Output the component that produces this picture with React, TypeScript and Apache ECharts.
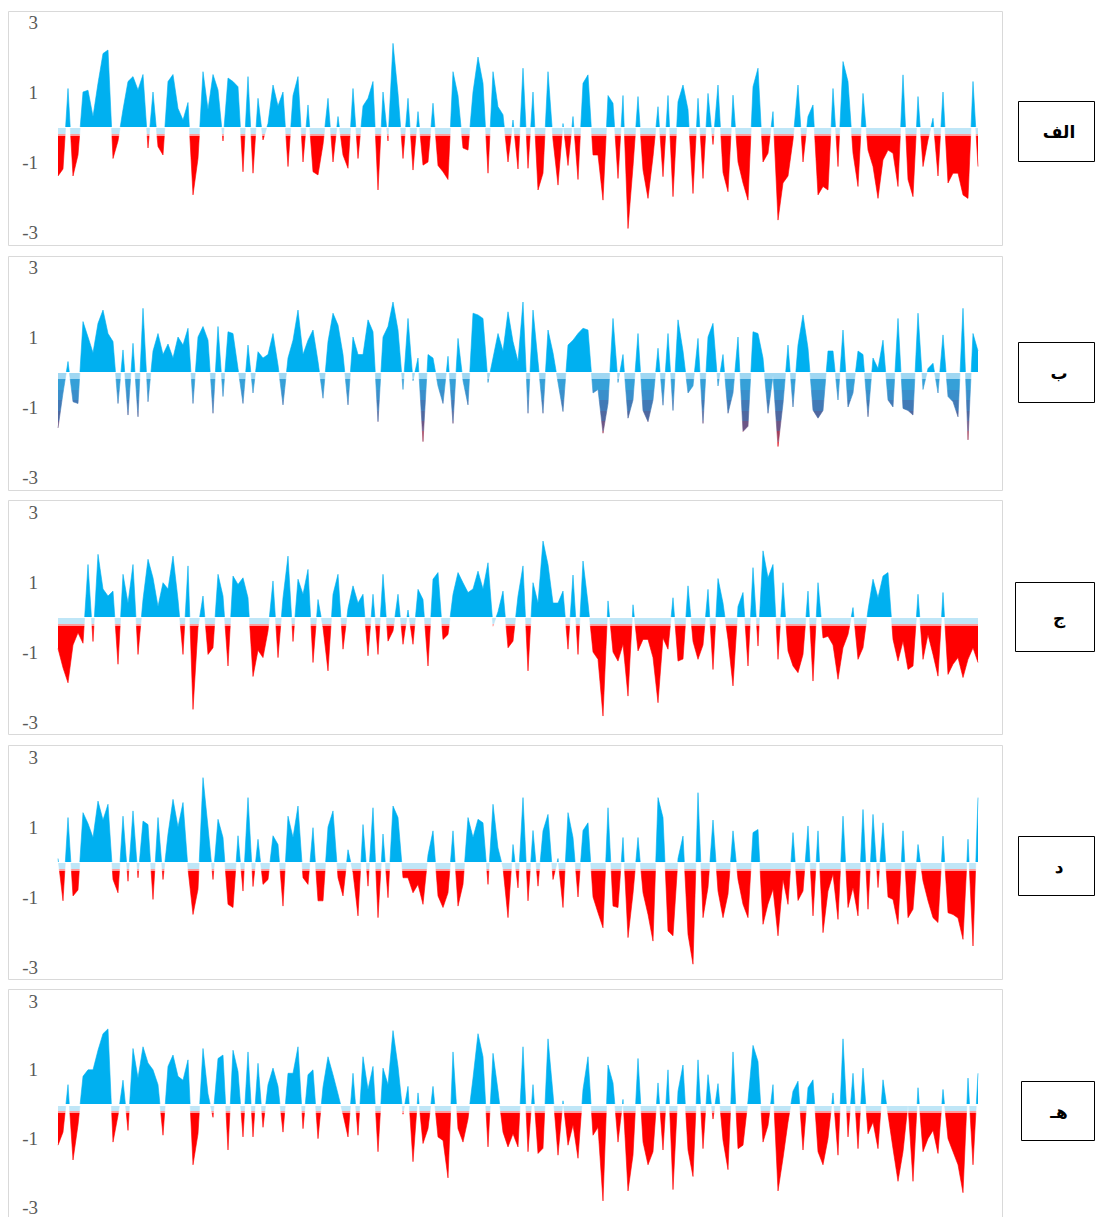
import React, { useEffect, useRef } from "react";
import * as echarts from "echarts";

// ---------- data ----------
const panelLabels = ["الف", "ب", "ج", "د", "هـ"];
const yTickLabels = [-3, -1, 1, 3];
const periods = Array.from({ length: 185 }, (_, i) => String(i + 1));

const seriesA = [
  -1.4, -1.2, 1.1, -1.4, -0.8, 1.0, 1.05, 0.3, 1.25, 2.1,
  2.2, -0.9, -0.4, 0.5, 1.3, 1.44, 1.06, 1.5, -0.6, 1.0,
  -0.56, -0.8, 1.3, 1.5, 0.53, 0.2, 0.7, -1.94, -0.9, 1.58,
  0.5, 1.5, 1.06, -0.4, 1.4, 1.3, 1.15, -1.28, 1.44, -1.32,
  0.82, -0.37, 0.1, 1.2, 0.6, 1.0, -1.13, 0.9, 1.44, -1.0,
  0.63, -1.28, -1.37, -0.5, 0.82, -1.0, 0.3, -0.8, -1.18, 1.1,
  -0.9, 0.6, 0.82, 1.3, -1.8, 1.0, -0.4, 2.39, 0.96, -0.9,
  0.82, -1.23, 0.44, -1.09, -1.0, 0.68, -1.1, -1.28, -1.5, 1.58,
  0.9, -0.6, -0.66, 1.0, 2.0, 1.25, -1.32, 1.58, 0.58, 0.35,
  -1.0, 0.2, -1.2,
  1.68, -1.18, 1.0, -1.8, -1.32, 1.58, -0.37, -1.66, 0.1, -1.1,
  0.3, -1.5, 1.25, 1.49, -0.8, -0.8, -2.09, 0.9, 0.68, -1.47,
  0.9, -2.9, -1.13, 0.87, -1.23, -2.04, -0.85, 0.58, -1.42, 0.9,
  -1.99, 0.72, 1.2, 0.5, -1.9, 0.82, -1.47, 0.96, -0.5, 1.2,
  -1.3, -1.85, 0.91, -1.0, -1.6, -2.09, 1.15, 1.68, -1.0, -0.75,
  0.44, -2.66, -1.6, -1.4, -0.37, 1.2, -1.0, 0.3, 0.63, -1.94,
  -1.7, -1.8, 1.1, -1.13, 1.87, 1.3, -0.75, -1.7, 0.96, -0.66,
  -1.13, -2.04, -0.94, -0.66, -0.75, -1.7, 1.49, -1.5, -1.99, 0.87,
  -1.13, -0.37, 0.25, -1.4, 1.0, -1.6, -1.32, -1.32, -1.94, -2.04,
  1.3, -1.13,
];

const seriesB = [
  -1.6, -0.6, 0.3, -0.85, -0.9, 1.44, 1.0, 0.55, 1.39, 1.77,
  1.1, 0.87, -0.9, 0.63, -1.23, 0.82, -1.28, 1.82, -0.85, 0.6,
  1.1, 0.5, 0.8, 0.4, 1.0, 0.77, 1.25, -0.9, 1.0, 1.3,
  0.91, -1.18, 1.3, -0.7, 1.15, 1.1, 0.1, -0.9, 0.77, -0.6,
  0.58, 0.4, 0.5, 1.1, 0.2, -0.94, 0.4, 0.91, 1.77, 0.5,
  0.91, 1.2, 0.3, -0.75, 0.87, 1.68, 1.34, 0.5, -0.94, 1.0,
  0.5, 0.5, 1.49, 1.15, -1.42, 1.0, 1.3, 2.0, 1.2, -0.5,
  1.53, -0.25, 0.4, -1.99, 0.5, 0.4, -0.4, -0.9, 0.45, -1.47,
  0.96, -0.25, -0.94, 1.68, 1.63, 1.53, -0.3, 0.4, 1.1, 0.6,
  1.72, 0.87, 0.3,
  2.0, -1.18, 1.77, 0.3, -1.18, 1.2, 0.55, -0.3, -1.13, 0.77,
  0.91, 1.1, 1.25, 1.2, -0.6, -0.5, -1.75, -0.9, 1.53, -0.3,
  0.5, -1.32, -0.8, 1.1, -1.1, -1.42, -0.8, 0.68, -0.95, 1.1,
  -1.1, 1.49, 0.6, -0.6, -0.4, 0.96, -1.47, 1.0, 1.39, -0.4,
  0.5, -1.18, -0.6, 1.0, -1.7, -1.55, 1.15, 1.1, 0.4, -1.18,
  -0.1, -2.13, -0.9, 0.77, -1.0, 0.77, 1.63, 0.68, -1.09, -1.32,
  -1.1, 0.6, 0.6, -0.8, 1.2, -1.0, -0.6, 0.6, 0.5, -1.28,
  0.4, 0.1, 0.91, -0.8, -1.0, 1.53, -1.04, -1.1, -1.23, 1.68,
  -0.5, 0.1, 0.25, -0.6, 1.06, -0.7, -0.85, -1.28, 1.82, -1.94,
  1.1, 0.6,
];

const seriesC = [
  -0.9, -1.45, -1.88, -0.8, -0.45, -0.75, 1.5, -0.7, 1.79, 0.8,
  0.6, 0.74, -1.35, 1.22, 0.4, 1.5, -1.07, 0.5, 1.65, 1.12,
  0.3, 0.98, 0.8, 1.74, 0.5, -1.07, 1.46, -2.64, -0.3, 0.6,
  -1.07, -0.88, 1.22, 0.6, -1.4, 1.17, 0.93, 1.12, 0.55, -1.7,
  -0.95, -1.16, -0.4, 1.03, -1.16, 0.55, 1.74, -0.7, 1.08, 0.65,
  1.36, -1.3, 0.5, -0.3, -1.54, 0.65, 1.22, -0.92, 0.25, 0.89,
  0.4, 0.65, -1.11, 0.65, -1.07, 1.22, -0.69, -0.4, 0.65, -0.78,
  0.2, -0.78, 0.79, 0.5, -1.4, 1.08, 1.27, -0.64, -0.5, 0.65,
  1.27, 0.98, 0.7, 0.8, 1.31, 0.8, 1.55, -0.26, 0.15, 0.74,
  -0.88, -0.69, 0.6,
  1.46, -1.54, 0.98, 0.4, 2.17, 1.5, 0.4, 0.4, 0.74, -0.92,
  1.2, -1.07, 1.6, 0.4, -1.0, -1.21, -2.83, 0.46, -1.0, -1.26,
  -0.78, -2.26, 0.35, -0.97, -0.64, -0.64, -1.16, -2.45, -0.6, -0.92,
  0.55, -1.26, -1.2, 0.89, -0.7, -1.21, -0.8, 0.79, -1.5, 1.1,
  0.4, -0.64, -1.97, 0.3, 0.7, -1.4, 1.41, -0.83, 1.89, 1.12,
  1.5, -1.21, 0.98, -0.97, -1.4, -1.59, -1.07, 0.74, -1.83, 0.98,
  -0.6, -0.55, -0.8, -1.78, -0.88, -0.5, 0.27, -1.21, -0.88, 0.2,
  1.08, 0.55, 1.17, 1.27, -0.64, -1.26, -0.69, -1.5, -1.4, 0.65,
  -1.21, -0.5, -1.07, -1.69, 0.7, -1.64, -1.35, -1.16, -1.73, -1.21,
  -0.88, -1.3,
];

const seriesD = [
  0.1, -1.11, 1.27, -0.97, -0.8, 1.41, 1.1, 0.7, 1.74, 1.2,
  1.65, -0.5, -0.88, 1.31, -0.55, 1.46, -0.45, 1.17, 1.07, -1.07,
  1.27, -0.5, 0.8, 1.79, 1.0, 1.7, -0.2, -1.5, -0.78, 2.41,
  1.0, -0.5, 1.22, 0.7, -1.21, -1.3, 0.75, -0.83, 1.84, -0.7,
  0.65, -0.64, -0.5, 0.75, 0.5, -1.26, 1.31, 0.7, 1.6, -0.45,
  -0.64, 0.98, -1.11, -1.11, 1.0, 1.46, -0.45, -0.97, 0.35, -0.3,
  -1.54, 1.07, -0.69, 1.55, -1.59, 0.8, -1.02, 1.6, 1.27, -0.45,
  -0.45, -0.88, -0.64, -1.21, 0.2, 0.89, -0.97, -1.3, -0.88, 0.89,
  -1.26, -0.64, 1.27, 0.7, 1.22, 1.12, -0.64, 1.65, 0.4, -0.17,
  -1.59, 0.5, -0.74,
  1.84, -1.11, 0.9, -0.69, 0.89, 1.36, -0.5, 0.1, -1.3, 1.41,
  0.7, -1.0, 0.9, 1.12, -1.0, -1.45, -1.88, 1.55, -1.26, -1.3,
  0.7, -2.16, -0.9, 0.7, -0.88, -1.5, -2.26, 1.84, 1.27, -1.97,
  -2.11, 0.1, 0.74, -2.07, -2.92, 1.98, -1.59, -0.73, 1.2, -0.83,
  -1.59, -0.92, 0.89, -0.5, -1.21, -1.59, 0.84, 0.93, -1.78, -1.2,
  -0.78, -2.11, -0.5, -1.21, 0.84, -1.1, -0.83, 1.03, -1.54, 0.89,
  -2.02, -0.83, -0.35, -1.64, 1.31, -1.3, -0.73, -1.54, 1.5, -1.35,
  1.36, -0.73, 1.12, -1.0, -1.07, -1.78, 0.89, -1.59, -1.35, 0.5,
  -0.54, -1.11, -1.59, -1.73, 0.74, -1.45, -1.5, -1.6, -2.21, 0.65,
  -2.4, 1.84,
];

const seriesE = [
  -1.19, -0.81, 0.57, -1.62, -0.6, 0.81, 1.0, 1.0, 1.57, 2.05,
  2.19, -1.1, -0.33, 0.7, -0.76, 1.62, 0.76, 1.67, 1.2, 1.0,
  0.57, -0.9, 1.1, 1.43, 0.81, 0.7, 1.29, -1.76, -0.86, 1.62,
  0.3, -0.38, 1.33, 1.43, -1.33, 1.57, 0.95, -0.95, 1.52, -0.95,
  1.19, -0.67, 0.57, 1.05, 0.52, -0.81, 0.9, 0.9, 1.67, -0.71,
  0.86, 1.0, -1.0, 0.5, 1.38, 0.86, 0.3, -0.29, -0.95, 0.9,
  -0.9, 1.38, 0.43, 1.1, -1.38, 1.05, 0.57, 2.14, 1.1, -0.29,
  0.52, -1.67, 0.33, -1.14, -0.71, 0.52, -0.95, -1.05, -2.14, 1.52,
  -0.71, -1.1, -0.43, 0.76, 2.05, 1.38, -1.24, 1.48, 0.4, -0.81,
  -1.24, -0.86, -1.24,
  1.67, -1.38, 0.57, -1.43, -1.28, 1.9, 0.3, -1.48, 0.1, -1.19,
  -0.6, -1.57, 0.43, 1.38, -0.9, -0.67, -2.81, 1.14, 0.62, -1.1,
  0.14, -2.52, -1.48, 1.33, -1.1, -1.76, -1.38, 0.62, -1.33, 1.0,
  -2.48, 0.38, 1.14, -1.33, -2.1, 1.29, -1.29, 0.86, -0.43, 0.6,
  -1.05, -1.9, 1.52, -1.29, -1.19, 0.1, 1.71, 1.24, -1.1, -0.62,
  0.57, -2.52, -1.57, -0.52, 0.38, 0.67, -1.33, 0.48, 0.71, -1.38,
  -1.76, -1.0, 0.33, -1.48, 1.9, -0.95, 0.9, -1.29, 1.05, -0.86,
  -0.52, -1.29, 0.71, -0.3, -1.29, -2.24, -1.38, 0.0, -2.24, 0.48,
  -1.38, -1.0, -0.76, -1.43, 0.43, -1.0, -1.38, -1.76, -2.57, 0.76,
  -1.76, 0.9,
];

const allSeries = [seriesA, seriesB, seriesC, seriesD, seriesE];

// ---------- layout / styles ----------
const W = 1095;
const H = 1217;
const gridTops = [22, 267, 512, 757, 1001];
const gridHeight = 210;
const gridLeft = 58;
const gridRight = W - 978;
const frameTops = [11, 256, 500, 745, 989];
const labelBoxes = [
  { x: 1018, y: 101, h: 60 },
  { x: 1018, y: 342, h: 60 },
  { x: 1015, y: 582, h: 69 },
  { x: 1018, y: 836, h: 59 },
  { x: 1021, y: 1081, h: 59 },
];

const BLUE = "#00B0F0";
const redPieces = [
  { gte: 0, color: BLUE },
  { gte: -0.04, lt: 0, color: "#ffffff" },
  { gte: -0.19, lt: -0.04, color: "#bfe6f7" },
  { gte: -0.25, lt: -0.19, color: "#ff9c9c" },
  { lt: -0.25, color: "#FF0000" },
];
const bluePieces = [
  { gte: 0, color: BLUE },
  { gte: -0.04, lt: 0, color: "#ffffff" },
  { gte: -0.2, lt: -0.04, color: "#9fd7f2" },
  { gte: -0.5, lt: -0.2, color: "#35a0d8" },
  { gte: -0.8, lt: -0.5, color: "#3a8fcb" },
  { gte: -1.1, lt: -0.8, color: "#4279b5" },
  { gte: -1.4, lt: -1.1, color: "#4f68a0" },
  { gte: -1.7, lt: -1.4, color: "#6c5686" },
  { gte: -2.0, lt: -1.7, color: "#a03e5c" },
  { lt: -2.0, color: "#e01423" },
];

export default function App() {
  const ref = useRef<HTMLDivElement>(null);

  useEffect(() => {
    if (!ref.current) return;
    const chart = echarts.init(ref.current, undefined, { renderer: "svg" });

    const grids = gridTops.map((top) => ({
      left: gridLeft,
      right: gridRight,
      top,
      height: gridHeight,
    }));
    const xAxes = gridTops.map((_, k) => ({
      type: "category",
      gridIndex: k,
      data: periods,
      boundaryGap: false,
      show: false,
    }));
    const yAxes = gridTops.map((_, k) => ({
      type: "value",
      gridIndex: k,
      min: yTickLabels[0],
      max: yTickLabels[yTickLabels.length - 1],
      interval: 2,
      axisLine: { show: false },
      axisTick: { show: false },
      splitLine: { show: false },
      axisLabel: {
        color: "#595959",
        fontFamily: "Liberation Serif",
        fontSize: 19,
        margin: 20,
      },
    }));
    const series = allSeries.map((data, k) => ({
      type: "line",
      xAxisIndex: k,
      yAxisIndex: k,
      data,
      symbol: "none",
      showSymbol: false,
      silent: true,
      lineStyle: { width: 0.6 },
      areaStyle: { opacity: 1 },
    }));
    const visualMaps = allSeries.map((_, k) => ({
      type: "piecewise",
      show: false,
      seriesIndex: k,
      dimension: 1,
      pieces: k === 1 ? bluePieces : redPieces,
    }));

    const graphics: any[] = [];
    frameTops.forEach((t) => {
      graphics.push({
        type: "rect",
        silent: true,
        shape: { x: 8.5, y: t + 0.5, width: 994, height: 234 },
        style: { fill: "none", stroke: "#d9d9d9", lineWidth: 1 },
        z: -1,
      });
    });
    labelBoxes.forEach((b, k) => {
      graphics.push({
        type: "rect",
        silent: true,
        shape: { x: b.x + 0.5, y: b.y + 0.5, width: 1094 - b.x, height: b.h },
        style: { fill: "#fff", stroke: "#000", lineWidth: 1 },
      });
      graphics.push({
        type: "text",
        silent: true,
        x: 1059,
        y: b.y + b.h / 2 + 1,
        style: {
          text: panelLabels[k],
          fill: "#000",
          font: "bold 17px 'DejaVu Sans'",
          align: "center",
          verticalAlign: "middle",
        },
      });
    });

    chart.setOption({
      animation: false,
      backgroundColor: "#fff",
      grid: grids,
      xAxis: xAxes,
      yAxis: yAxes,
      visualMap: visualMaps,
      series,
      graphic: graphics,
    } as any);

    return () => chart.dispose();
  }, []);

  return (
    <div
      ref={ref}
      style={{ position: "absolute", left: 0, top: 0, width: W, height: H }}
    />
  );
}
